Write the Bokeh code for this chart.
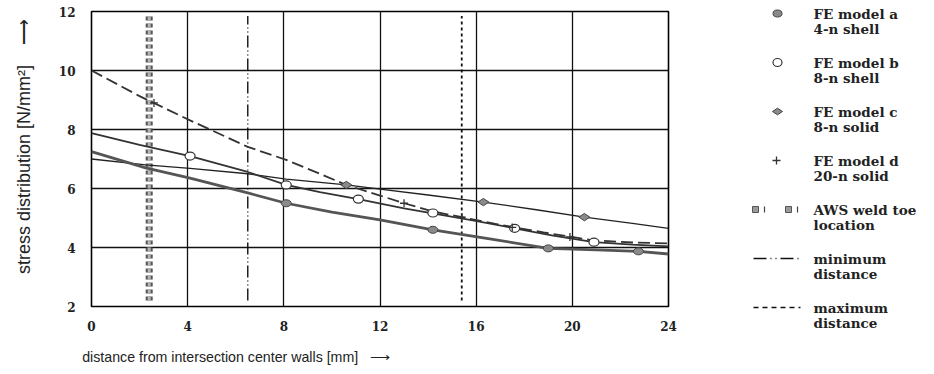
import math
from bokeh.plotting import figure
from bokeh.models import Range1d, FixedTicker
from bokeh.layouts import row
from bokeh.embed import file_html
from bokeh.resources import INLINE
from bokeh.core.properties import value

# ---------------- data ----------------
X_TICKS = [0, 4, 8, 12, 16, 20, 24]
Y_TICKS = [2, 4, 6, 8, 10, 12]

# FE model a, 4-node shell (filled circles)
A_X = [0, 2.25, 4.1, 6.5, 8.1, 10, 12, 14.2, 16.5, 19.0, 21, 22.75, 24]
A_Y = [7.25, 6.7, 6.35, 5.85, 5.5, 5.2, 4.94, 4.6, 4.3, 3.97, 3.92, 3.87, 3.78]
A_MX = [8.1, 14.2, 19.0, 22.75]
A_MY = [5.5, 4.6, 3.97, 3.87]

# FE model b, 8-node shell (open circles)
B_X = [0, 2, 4.1, 6.5, 8.1, 9.5, 11.1, 13, 15.8, 17.6, 19.2, 20.9, 22.5, 24]
B_Y = [7.88, 7.48, 7.1, 6.56, 6.12, 5.88, 5.64, 5.33, 4.93, 4.65, 4.4, 4.18, 4.1, 4.04]
B_MX = [4.1, 8.1, 11.1, 14.2, 17.6, 20.9]
B_MY = [7.1, 6.12, 5.64, 5.17, 4.65, 4.18]

# FE model c, 8-node solid (diamonds)
C_X = [0, 2.25, 4.1, 6.5, 8.1, 10.6, 12, 14, 16.3, 18.5, 20.5, 22.5, 24]
C_Y = [7.0, 6.8, 6.68, 6.5, 6.32, 6.12, 5.98, 5.78, 5.54, 5.28, 5.03, 4.82, 4.65]
C_MX = [10.6, 16.3, 20.5]
C_MY = [6.12, 5.54, 5.03]

# FE model d, 20-node solid (plus, dashed curve)
D_X = [0, 2, 4.1, 6.5, 8.1, 9.5, 10.6, 12, 13, 14.2, 15.4, 16.8, 18.8, 20.9, 22.5, 24]
D_Y = [10.0, 9.13, 8.31, 7.41, 6.97, 6.5, 6.12, 5.76, 5.5, 5.22, 5.03, 4.8, 4.51, 4.24, 4.17, 4.14]
D_MX = [2.6, 13.0, 15.4, 17.5, 19.9]
D_MY = [8.9, 5.5, 5.03, 4.68, 4.36]

# reference locations [mm]
AWS_X = 2.4
MIN_X = 6.5
MAX_X = 15.4
VLINE_Y = [2.2, 11.85]

LEG_LINE1 = ["FE model a", "FE model b", "FE model c", "FE model d",
             "AWS weld toe", "minimum", "maximum"]
LEG_LINE2 = ["4-n shell", "8-n shell", "8-n solid", "20-n solid",
             "location", "distance", "distance"]

NB = "\u00a0"
X_LABEL = "distance from intersection center walls [mm]" + NB * 3 + "\u27f6"
Y_LABEL = "stress distribution [N/mm\u00b2]" + NB * 4 + "\u27f6"

# ---------------- main plot ----------------
p = figure(width=680, height=374, x_range=Range1d(0, 24), y_range=Range1d(2, 12),
           output_backend="svg", toolbar_location=None,
           min_border_left=91, min_border_right=12, min_border_top=11,
           min_border_bottom=68)
p.background_fill_color = "white"
p.border_fill_color = "white"
p.outline_line_color = "black"
p.outline_line_width = 1.6

p.xaxis.ticker = FixedTicker(ticks=X_TICKS)
p.yaxis.ticker = FixedTicker(ticks=Y_TICKS)
p.xgrid.ticker = FixedTicker(ticks=X_TICKS)
p.ygrid.ticker = FixedTicker(ticks=Y_TICKS)
for g in (p.xgrid, p.ygrid):
    g.grid_line_color = "#111111"
    g.grid_line_width = 1.3
for ax in (p.xaxis, p.yaxis):
    ax.axis_line_color = None
    ax.major_tick_line_color = None
    ax.minor_tick_line_color = None
    ax.major_label_text_font = "DejaVu Serif"
    ax.major_label_text_font_style = "bold"
    ax.major_label_text_font_size = "12px"
    ax.major_label_text_color = "#222222"
    ax.axis_label_text_font = "Liberation Sans"
    ax.axis_label_text_font_style = "normal"
    ax.axis_label_text_color = "#222222"
p.xaxis.major_label_standoff = 8
p.yaxis.major_label_standoff = 10

# axis titles (padding with no-break spaces shifts them like the original)
p.yaxis.axis_label = NB * 5 + Y_LABEL
p.yaxis.axis_label_text_font_size = "18px"
p.yaxis.axis_label_standoff = 22
p.xaxis.axis_label = X_LABEL + NB * 73
p.xaxis.axis_label_text_font_size = "14.2px"
p.xaxis.axis_label_standoff = 15

# vertical reference lines
p.line([AWS_X, AWS_X], VLINE_Y, line_color="#555555", line_width=7, line_dash="4 3")
p.line([AWS_X, AWS_X], VLINE_Y, line_color="#b5b5b5", line_width=3, line_dash="4 3")
p.line([MIN_X, MIN_X], VLINE_Y, line_color="#111111", line_width=1.4,
       line_dash="12 3 1 3 1 3")
p.line([MAX_X, MAX_X], VLINE_Y, line_color="#111111", line_width=1.8, line_dash="3 3")

# curves
p.line(C_X, C_Y, line_color="#222222", line_width=1.3)
p.line(B_X, B_Y, line_color="#333333", line_width=1.8)
p.line(D_X, D_Y, line_color="#333333", line_width=1.8, line_dash="12 5")
p.line(A_X, A_Y, line_color="#555555", line_width=2.8)

# markers
p.ellipse(A_MX, A_MY, width=10, height=7, width_units="screen", height_units="screen",
          fill_color="#8a8a8a", line_color="#444444", line_width=1)
p.ellipse(B_MX, B_MY, width=10, height=8, width_units="screen", height_units="screen",
          fill_color="white", line_color="#333333", line_width=1.2)
p.scatter(C_MX, C_MY, marker="diamond", size=11, angle=math.pi / 2,
          fill_color="#8a8a8a", line_color="#444444", line_width=1)
p.scatter(D_MX, D_MY, marker="cross", size=8, line_color="#333333", line_width=1.3)

# ---------------- legend panel ----------------
leg = figure(width=254, height=374, x_range=Range1d(0, 254), y_range=Range1d(374, 0),
             output_backend="svg", toolbar_location=None,
             x_axis_location=None, y_axis_location=None,
             min_border_left=0, min_border_right=0, min_border_top=0,
             min_border_bottom=0)
leg.grid.visible = False
leg.outline_line_color = None
leg.background_fill_color = "white"
leg.border_fill_color = "white"
for fig in (p, leg):
    try:
        fig.frame_align = False
    except Exception:
        pass

ROW_Y = [13 + 49 * i for i in range(len(LEG_LINE1))]
TXT_X = 133
MK_X = 97
leg.text([TXT_X] * len(LEG_LINE1), ROW_Y, text=LEG_LINE1,
         text_font=value("DejaVu Serif"), text_font_style="bold",
         text_font_size="13.5px", text_baseline="middle", text_color="#222222")
leg.text([TXT_X] * len(LEG_LINE2), [y + 15 for y in ROW_Y], text=LEG_LINE2,
         text_font=value("DejaVu Serif"), text_font_style="bold",
         text_font_size="13.5px", text_baseline="middle", text_color="#222222")

leg.ellipse([MK_X], [ROW_Y[0]], width=9, height=7, width_units="screen",
            height_units="screen", fill_color="#8a8a8a", line_color="#444444")
leg.ellipse([MK_X], [ROW_Y[1]], width=9, height=8, width_units="screen",
            height_units="screen", fill_color="white", line_color="#333333",
            line_width=1.2)
leg.scatter([MK_X], [ROW_Y[2]], marker="diamond", size=10, angle=math.pi / 2,
            fill_color="#8a8a8a", line_color="#444444")
leg.scatter([MK_X - 1], [ROW_Y[3]], marker="cross", size=8, line_color="#333333",
            line_width=1.3)
# AWS sample
leg.scatter([75, 108], [ROW_Y[4], ROW_Y[4]], marker="square", size=6,
            fill_color="#9a9a9a", line_color="#555555")
leg.segment([84, 117], [ROW_Y[4] - 3, ROW_Y[4] - 3], [84, 117], [ROW_Y[4] + 3, ROW_Y[4] + 3],
            line_color="#444444", line_width=1.2)
# minimum / maximum samples
leg.line([73, 120], [ROW_Y[5], ROW_Y[5]], line_color="#111111", line_width=1.4,
         line_dash="13 4 1 4 1 4")
leg.line([73, 120], [ROW_Y[6], ROW_Y[6]], line_color="#111111", line_width=1.4,
         line_dash="5 4")

layout = row(p, leg)
open("out.html", "w").write(file_html(layout, INLINE))
